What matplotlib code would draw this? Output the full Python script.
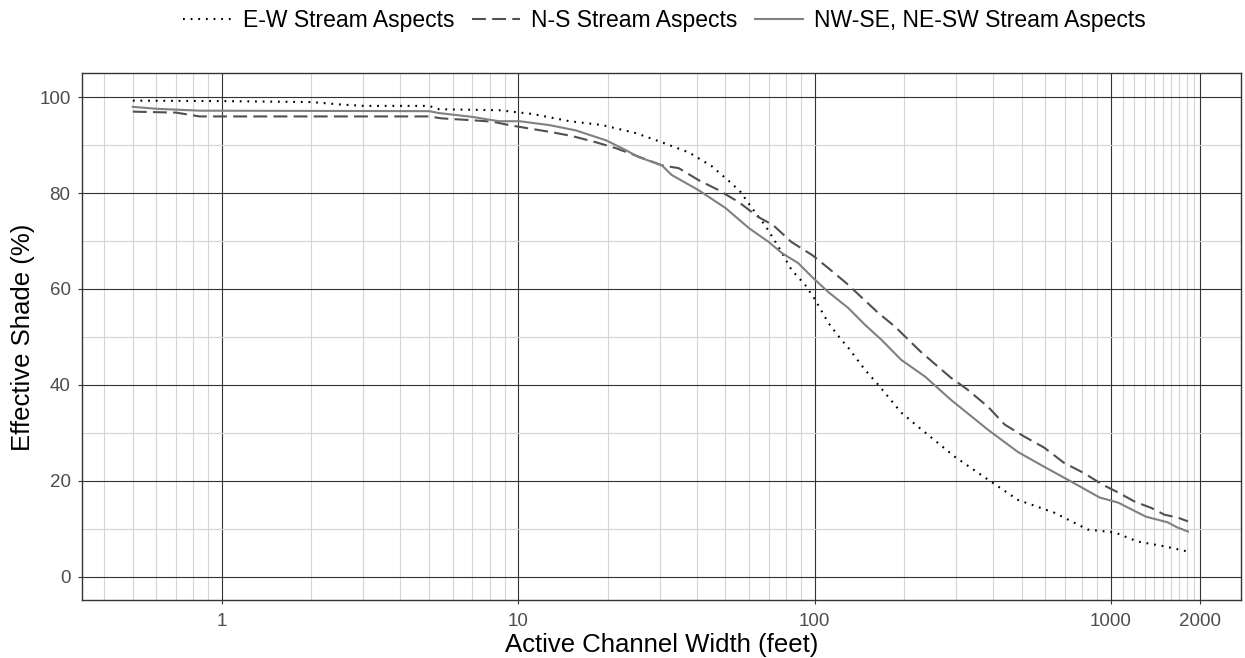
import numpy as np
import matplotlib.pyplot as plt
from matplotlib.ticker import FixedLocator, FixedFormatter, NullFormatter

plt.rcParams['font.family'] = ['Liberation Sans', 'DejaVu Sans']
plt.rcParams['lines.scale_dashes'] = False

# MARK: - Data
ew_width = [0.5, 1, 2, 2.5, 3, 5, 5.4, 8.6, 11.2, 14.9, 19.2, 25, 30.5, 37.6, 45,
            52.5, 56.3, 61.2, 68, 75.5, 83.5, 93, 100.5, 111, 123, 130, 148, 164,
            196, 223, 297, 385, 485, 645, 835, 1030, 1230, 1515, 1820]
ew_shade = [99.3, 99.2, 99.0, 98.5, 98.2, 98.2, 97.5, 97.3, 96.5, 95.0, 94.2, 92.5,
            90.6, 88.5, 85.6, 82.0, 80.2, 77.0, 73.3, 68.8, 64.0, 60.8, 57.7, 53.0,
            49.4, 47.7, 43.1, 40.0, 34.2, 31.3, 25.0, 20.2, 16.0, 13.3, 9.8, 9.2,
            7.3, 6.3, 5.2]

ns_width = [0.5, 0.7, 0.84, 5, 5.5, 7, 8.2, 9.3, 10.6, 13, 15.2, 18.3, 21.3, 30.5,
            34.8, 40.6, 47.5, 55.5, 64.6, 72.5, 83.5, 98.5, 113, 128, 164, 187, 228,
            288, 328, 385, 438, 510, 595, 695, 810, 935, 1060, 1205, 1370, 1515,
            1680, 1820]
ns_shade = [97.0, 96.8, 96.0, 96.0, 95.6, 95.2, 94.9, 94.2, 93.6, 92.7, 91.9, 90.6,
            89.4, 85.8, 85.2, 82.7, 80.6, 78.1, 75.0, 73.3, 69.8, 67.0, 64.0, 61.2,
            55.0, 52.1, 46.9, 41.5, 39.0, 35.4, 31.7, 29.2, 26.9, 23.7, 21.6, 19.2,
            17.5, 15.6, 14.3, 12.9, 12.3, 11.5]

diag_width = [0.5, 0.6, 0.84, 5, 5.4, 7, 8.6, 10.1, 12.7, 15.6, 19.8, 23, 25.5, 30.5,
              32.9, 40.6, 50, 60, 70, 77.5, 88, 98, 111, 130, 148, 168, 196, 236,
              288, 385, 485, 595, 715, 915, 1060, 1310, 1555, 1680, 1820]
diag_shade = [98.0, 97.6, 97.2, 97.1, 96.7, 95.9, 95.0, 95.0, 94.2, 93.1, 91.0, 89.0,
              87.5, 85.8, 83.8, 80.6, 76.9, 72.7, 69.8, 67.5, 65.4, 62.5, 59.4, 56.0,
              52.5, 49.4, 45.2, 41.7, 36.9, 30.6, 26.0, 22.9, 20.2, 16.5, 15.4, 12.5,
              11.3, 10.2, 9.4]

x_breaks = [1, 10, 100, 1000, 2000]
x_labels = ["1", "10", "100", "1000", "2000"]
y_breaks = [0, 20, 40, 60, 80, 100]


# MARK: - Plot
fig = plt.figure(figsize=(12.45, 6.58), dpi=100)
ax = fig.add_axes([0.0656, 0.0874, 0.931, 0.8012])

ax.plot(ew_width, ew_shade, color="black", lw=1.5, dashes=(1.3, 4.2),
        label="E-W Stream Aspects")
ax.plot(ns_width, ns_shade, color="#505050", lw=1.5, dashes=(10, 4.5),
        label="N-S Stream Aspects")
ax.plot(diag_width, diag_shade, color="#808080", lw=1.5,
        label="NW-SE, NE-SW Stream Aspects")

ax.set_xscale("log")
ax.set_xlim(0.336, 2742)
ax.set_ylim(-5, 105)

# grid lines: dark majors, light minors
minor_x = [m * 10.0 ** d for d in range(-1, 4) for m in range(1, 10)]
minor_x = [v for v in minor_x if v not in x_breaks and 0.35 < v < 2000]
minor_x += [1100, 1200, 1300, 1400, 1500, 1600, 1700, 1800, 1900]
ax.xaxis.set_major_locator(FixedLocator(x_breaks))
ax.xaxis.set_major_formatter(FixedFormatter(x_labels))
ax.xaxis.set_minor_locator(FixedLocator(minor_x))
ax.xaxis.set_minor_formatter(NullFormatter())
ax.yaxis.set_major_locator(FixedLocator(y_breaks))
ax.yaxis.set_minor_locator(FixedLocator([10, 30, 50, 70, 90]))
ax.yaxis.set_minor_formatter(NullFormatter())

ax.grid(which="minor", color="#d4d4d4", lw=0.8)
ax.grid(which="major", color="#333333", lw=0.8)
ax.set_axisbelow(True)

ax.tick_params(which="major", length=3, width=0.8, color="#333333",
               labelsize=13.5, labelcolor="#4d4d4d")
ax.tick_params(axis="x", pad=6)
ax.tick_params(axis="y", pad=5)
ax.tick_params(which="minor", length=0)
for s in ax.spines.values():
    s.set_color("#333333")
    s.set_linewidth(1.0)

ax.set_xlabel("Active Channel Width (feet)", fontsize=18.5, labelpad=2)
ax.set_ylabel("Effective Shade (%)", fontsize=18.5, labelpad=3)

fig.legend(loc="center", bbox_to_anchor=(0.534, 0.969), ncol=3, frameon=False,
           fontsize=16.5, handlelength=2.1, columnspacing=0.75, handletextpad=0.5)

fig.savefig("out.png", dpi=100)
